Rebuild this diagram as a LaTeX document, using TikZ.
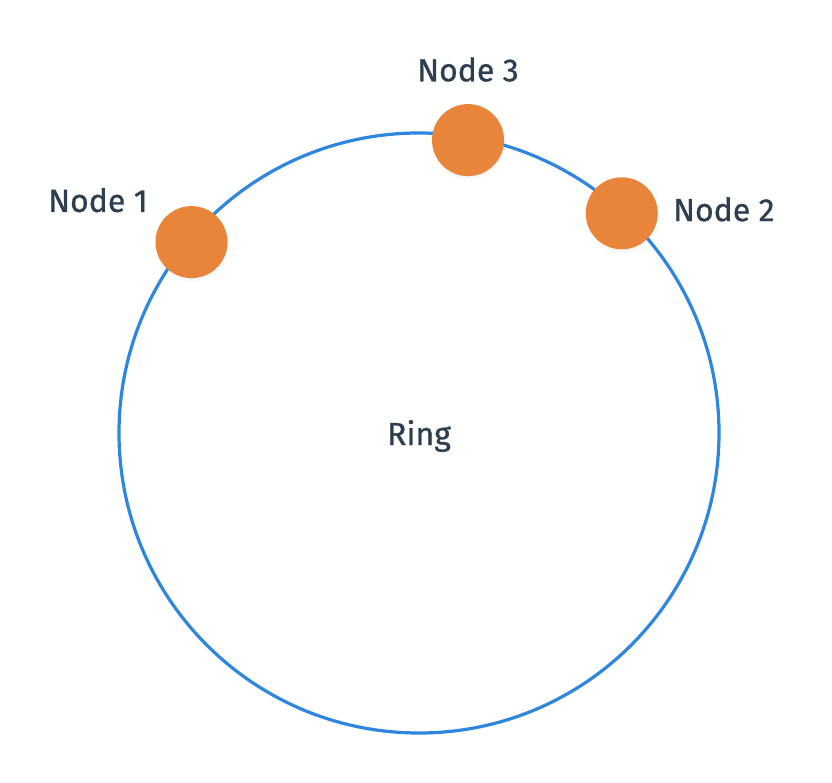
\documentclass[tikz,border=0pt]{standalone}
\usepackage{fontspec}
\setmainfont{Fira Sans}[FakeBold=0.8]
\usetikzlibrary{positioning, shadows}

\definecolor{ringblue}{HTML}{2E86DE}
\definecolor{dotorange}{HTML}{E8853A}
\definecolor{inkgray}{HTML}{2C3E50}

\begin{document}
\begin{tikzpicture}[
    x=1pt, y=1pt,
    ring/.style={draw=ringblue, line width=3.2pt},
    dot/.style={circle, fill=dotorange, minimum size=72pt, inner sep=0pt,
                circular drop shadow={shadow xshift=0pt, shadow yshift=-2pt,
                                      shadow scale=1.06, opacity=0.12}},
    tag/.style={text=inkgray, font=\fontsize{32}{36}\selectfont, inner sep=0pt}
]
  % canvas
  \useasboundingbox (-419,-349) rectangle (413,433);

  % the ring
  \node[circle, minimum size=600pt, inner sep=0pt] (ring) at (0,0) {};
  \draw[ring] (ring.center) circle[radius=300];
  \node[tag] (ringlbl) at (0,-3) {Ring};

  % nodes on the ring
  \node[dot] (n1) at (140:297) {};
  \node[dot] (n3) at (80.5:297) {};
  \node[dot] (n2) at (47.3:299) {};

  % labels
  \node[tag, above left=4pt and 18pt of n1.north west] (lbl1) {Node 1};
  \node[tag, above=22pt of n3.north] (lbl3) {Node 3};
  \node[tag, right=15pt of n2.east, yshift=4pt] (lbl2) {Node 2};
\end{tikzpicture}
\end{document}
